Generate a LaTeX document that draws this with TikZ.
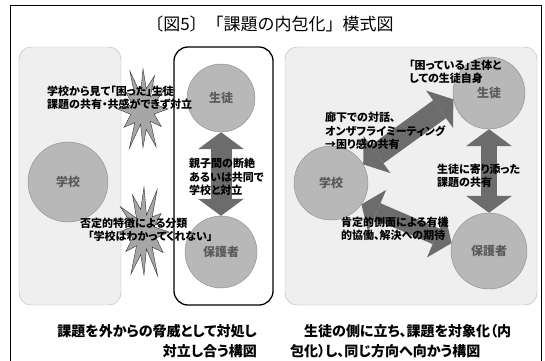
\documentclass[tikz,border=0pt]{standalone}
\usepackage{fontspec}
\setmainfont{Noto Sans CJK JP}[RawFeature=+palt]
\newfontfamily\titlefont{Noto Sans CJK JP}
\usepackage{tikz}
\usetikzlibrary{arrows.meta}

\definecolor{panelgray}{HTML}{EFEFEF}
\definecolor{panelline}{HTML}{B4B4B4}
\definecolor{circlegray}{HTML}{B8B8B8}
\definecolor{circleline}{HTML}{8A8A8A}
\definecolor{circletext}{HTML}{5A5A5A}
\definecolor{arrowgray}{HTML}{6C6C6C}
\definecolor{burstgray}{HTML}{A6A6A6}

\newcommand{\spikes}{15/11, 30/20, 45/10, 60/25, 75/12, 90/22, 105/9, 120/26, 135/11, 150/21, 165/12, 180/24, 195/10, 210/19, 225/11, 240/25, 255/9, 270/23, 285/12, 300/22, 315/10, 330/26, 345/11}

\begin{document}
\begin{tikzpicture}[x=1pt, y=-1pt,
    panel/.style={draw=panelline, fill=panelgray, rounded corners=12pt},
    person/.style={circle, draw=circleline, fill=circlegray, inner sep=0pt, text=circletext, font=\fontsize{12}{14}\selectfont\bfseries},
    burst/.style={draw=black!80, fill=burstgray, line join=miter},
    note/.style={align=left, anchor=west, inner sep=0pt, font=\fontsize{11}{13.5}\selectfont\bfseries},
    caption/.style={inner sep=0pt, font=\fontsize{14}{20}\selectfont\bfseries},
    bigarrow/.style={draw=arrowgray, line width=21pt, {Triangle[length=17pt,width=46pt,line width=0pt]}-{Triangle[length=17pt,width=46pt,line width=0pt]}}]
    \useasboundingbox (0,0) rectangle (545,360);
    \draw[line width=1pt] (10,370) -- (10,5) -- (541,5) -- (541,370);

    % Title
    \node[font=\titlefont\fontsize{17}{20}\selectfont] (title) at (270,24) {〔図5〕「課題の内包化」模式図};

    % Panels
    \draw[panel] (19,47) rectangle (121,305);
    \draw[line width=1.3pt, rounded corners=14pt, fill=white] (174,47) rectangle (273,305);
    \draw[panel] (285,47) rectangle (537,305);

    % Nodes
    \node[person, minimum size=80pt] (schoolL) at (68,182) {学校};
    \node[person, minimum size=68pt] (studentL) at (221,98) {生徒};
    \node[person, minimum size=72pt] (parentL) at (221,252) {保護者};

    \node[person, minimum size=74pt] (schoolR) at (331,183) {学校};
    \node[person, minimum size=72pt] (studentR) at (489,93) {生徒};
    \node[person, minimum size=76pt] (parentR) at (489,251) {保護者};

    % Bursts
    \draw[burst] (168,109) \foreach \a/\r in \spikes {-- ({143+1.05*\r*cos(\a)}, {109+1.75*\r*sin(\a)})} -- cycle;
    \draw[burst] (119,232) \foreach \a/\r in \spikes {-- ({144-1.05*\r*cos(\a)}, {232+1.95*\r*sin(\a)})} -- cycle;

    % Lines
    \draw[bigarrow] (studentL) -- (parentL);
    \draw[bigarrow, line width=16pt] (studentR) -- (parentR);
    \draw[bigarrow, line width=22pt] (schoolR.30) -- (studentR.190);
    \draw[bigarrow, line width=17pt] (schoolR.-35) -- (parentR.168);

    % Texts
    \node[note] (noteA) at (47,98) {学校から見て「困った」生徒\\課題の共有・共感ができず対立};
    \node[note] (noteB) at (189,177) {親子間の断絶\\あるいは共同で\\学校と対立};
    \node[note] (noteC) at (80,230) {否定的特徴による分類\\\hspace*{8pt}「学校はわかってくれない」};
    \node[note] (noteD) at (409,72) {「困っている」主体と\\しての生徒自身};
    \node[note] (noteE) at (325,131) {廊下での対話、\\オンザフライミーティング\\→困り感の共有};
    \node[note] (noteF) at (437,176) {生徒に寄り添った\\課題の共有};
    \node[note] (noteG) at (341,229) {肯定的側面による有機\\的協働、解決への期待};

    \node[caption, align=right, anchor=east] (capL) at (257,341) {課題を外からの脅威として対処し\\対立し合う構図};
    \node[caption, align=left, anchor=west] (capR) at (290,341) {　生徒の側に立ち、課題を対象化（内\\包化）し、同じ方向へ向かう構図};
\end{tikzpicture}
\end{document}
